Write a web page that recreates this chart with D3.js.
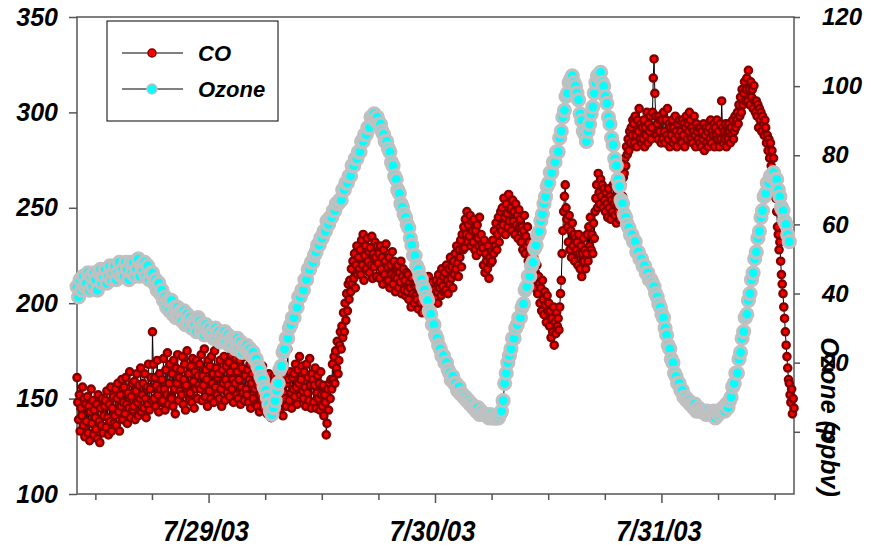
<!DOCTYPE html>
<html>
<head>
<meta charset="utf-8">
<script src="https://cdn.jsdelivr.net/npm/d3@7"></script>
<style>
  body { margin: 0; background: #fff; }
  text { font-family: "Liberation Sans", Arial, sans-serif; font-weight: bold; font-style: italic; fill: #000; }
</style>
</head>
<body>
<div class="chart"></div>
<script>
// CO (ppbv), one value every 5 minutes starting 7/28/03 10:00 (one row per hour)
const coVals = [
  161,148,139,152,133,145,141,156,136,150,130,147,
  138,151,132,146,128,143,155,137,149,131,144,140,
  134,147,129,152,138,127,145,136,150,132,141,146,
  149,135,154,140,131,147,138,156,133,145,151,137,
  141,155,136,150,158,143,133,152,146,160,139,148,
  156,142,161,147,137,153,145,164,140,151,158,144,
  146,159,139,154,163,148,141,157,150,166,143,152,
  158,145,163,150,140,156,147,168,144,155,161,149,
  185,168,150,161,146,157,170,152,143,163,155,148,
  160,149,171,155,144,165,152,174,147,158,168,151,
  150,163,146,170,155,142,166,158,173,149,161,154,
  165,152,172,147,160,168,144,157,175,153,163,149,
  153,167,148,171,159,145,164,155,170,150,162,157,
  168,155,173,149,162,157,176,151,165,160,146,170,
  154,167,150,172,158,163,148,175,156,166,152,161,
  163,150,170,155,146,165,158,172,149,160,167,153,
  157,169,151,164,173,155,160,148,167,158,171,152,
  164,150,160,170,147,156,166,153,172,149,162,155,
  152,165,148,160,168,145,158,163,150,170,155,147,
  160,146,157,165,143,152,161,149,167,145,156,151,
  148,160,142,155,163,146,152,140,158,150,145,162,
  157,144,153,161,147,150,143,158,148,155,141,153,
  150,162,146,158,176,160,149,164,153,145,161,155,
  163,151,168,156,147,165,158,172,152,160,167,154,
  150,164,156,146,168,153,161,149,171,157,145,163,
  160,148,157,166,145,153,162,150,158,144,164,152,
  146,157,141,152,148,131,137,155,144,158,150,160,
  155,168,160,172,158,175,166,180,163,170,178,185,
  176,188,182,195,185,200,191,205,196,210,202,212,
  206,218,210,222,213,226,208,220,230,215,224,218,
  228,215,233,220,236,212,225,230,218,234,222,227,
  216,229,220,235,213,226,219,232,224,214,230,221,
  226,213,230,218,224,210,228,215,222,231,212,219,
  212,224,208,220,215,227,210,222,214,206,219,213,
  220,208,216,211,222,205,214,218,207,212,204,216,
  206,215,202,211,208,198,213,205,210,200,209,204,
  202,210,197,207,212,200,205,195,209,203,198,206,
  210,199,206,214,201,208,196,204,211,200,207,203,
  203,212,206,200,215,208,211,204,218,209,214,206,
  216,207,220,212,205,218,210,224,213,219,208,222,
  215,226,218,230,221,214,228,224,233,219,236,228,
  240,229,244,236,248,232,241,235,246,230,243,238,
  232,244,228,238,225,241,234,230,245,227,236,231,
  229,220,233,216,226,222,218,230,213,224,221,227,
  222,233,226,238,230,242,228,236,245,232,240,248,
  238,250,241,255,245,236,252,247,240,257,243,249,
  250,238,254,243,248,236,252,241,246,234,249,240,
  244,232,240,228,238,246,226,235,230,240,222,232,
  225,214,221,210,218,224,208,216,212,220,205,214,
  210,200,208,196,212,202,194,206,199,190,204,196,
  200,188,196,182,192,185,198,178,190,184,195,188,
  192,186,198,205,212,226,238,248,256,262,250,244,
  240,232,246,228,238,224,242,230,236,222,234,228,
  232,220,236,226,218,230,214,226,234,222,228,218,
  226,236,222,240,230,245,228,236,226,242,234,248,
  255,262,250,268,258,252,265,256,262,250,260,254,
  248,258,252,245,260,250,256,244,254,248,262,252,
  246,255,242,252,248,258,244,254,250,262,256,266,
  268,276,272,282,278,286,280,290,284,292,288,296,
  294,284,298,288,282,296,290,302,286,294,284,292,
  286,296,282,292,288,300,284,294,290,298,286,292,
  300,318,328,310,298,288,294,286,298,290,296,284,
  296,286,300,290,284,296,288,302,286,294,282,292,
  288,296,284,292,286,298,290,282,294,288,296,285,
  290,284,296,288,294,282,292,298,286,294,290,300,
  296,286,292,284,290,298,288,282,294,290,286,292,
  284,292,282,290,286,294,280,288,292,284,290,282,
  292,286,296,284,290,288,294,282,292,288,296,286,
  290,282,294,286,306,292,284,290,286,294,282,290,
  286,294,290,284,292,288,296,286,290,298,292,296,
  300,294,304,298,308,300,312,304,310,316,306,312,
  318,306,322,312,304,316,308,312,302,314,306,300,
  306,298,304,292,302,296,300,290,298,294,288,296,
  292,284,288,280,286,276,284,272,280,268,276,264,
  262,255,248,240,236,228,232,222,215,210,205,198,
  192,185,178,172,166,160,158,152,148,155,142,150,
  145
];
// Ozone (ppbv), one value every 10 minutes starting 7/28/03 10:00 (one row per hour)
const o3Vals = [
  42,39,44,41,45,42,  43,46,41,45,42,46,  44,41,46,47,43,45,  47,43,45,48,44,46,
  48,44,46,49,45,47,  45,49,47,44,49,46,  49,45,47,50,45,48,  47,49,45,48,44,46,
  46,43,44,41,43,40,  41,38,39,36,38,35,  38,34,36,33,36,33,  35,32,35,31,34,31,
  33,30,32,31,29,33,  32,29,31,28,31,29,  30,28,29,27,30,27,  29,26,28,26,29,26,
  28,25,27,25,27,24,  27,24,26,23,25,24,  25,23,24,22,23,21,  21,19,18,16,15,13,
  12,10,8,6,5,7,      9,12,14,18,19,23,   24,27,27,30,31,33,  33,36,36,39,39,41,
  41,44,44,47,47,49,  49,51,52,54,54,56,  56,58,58,61,60,62,  62,64,64,66,66,67,
  67,70,70,72,72,74,  74,77,77,79,79,81,  81,84,84,86,86,88,  88,91,91,92,90,91,
  89,89,87,86,84,84,  82,81,78,77,74,73,  70,69,66,65,63,62,  60,59,56,54,51,51,
  48,47,45,44,42,41,  39,38,35,34,31,31,  28,27,25,24,22,22,  20,20,18,17,15,16,
  14,14,12,13,11,11,  10,10,9,9,8,8,      7,7,6,7,5,6,        5,5,5,5,4,5,
  4,4,4,4,4,5,        6,9,14,17,20,22,    24,27,27,30,31,33,  33,36,37,41,42,45,
  45,48,49,53,54,57,  58,61,63,66,68,71,  72,75,75,78,78,81,  81,85,87,91,93,97,
  98,101,102,103,101,100, 98,96,92,90,87,86, 84,87,89,92,94,98, 101,103,103,104,101,100,
  97,95,91,89,85,83,  79,77,73,71,67,66,  63,62,60,59,57,57,  55,55,52,52,50,50,
  48,48,46,46,44,44,  43,42,40,39,37,36,  34,33,30,28,25,24,  21,20,17,16,14,14,
  12,12,10,10,9,9,    8,8,7,8,6,7,        6,6,6,6,5,6,        5,5,5,6,4,6,
  5,6,6,7,6,8,        7,9,10,13,14,17,    17,21,23,27,29,33,  34,38,40,44,46,50,
  52,56,58,62,64,68,  69,72,72,74,74,75,  73,73,70,68,65,64,  61,60,57,55
];
const dayLabels = ['7/29/03', '7/30/03', '7/31/03'];
const coTicks = [100, 150, 200, 250, 300, 350];
const o3Ticks = [0, 20, 40, 60, 80, 100, 120];
const seriesNames = ['CO', 'Ozone'];

const width = 871, height = 548;
const plotLeft = 77, plotRight = 794, plotTop = 17, plotBottom = 494;

const t0 = new Date(2003, 6, 28, 10, 0);
const t1 = new Date(2003, 6, 31, 14, 0);
const coData = coVals.map((v, i) => ({t: d3.timeMinute.offset(t0, i * 5), v: v}));
const o3Data = o3Vals.map((v, i) => ({t: d3.timeMinute.offset(t0, i * 10), v: v}));

const x = d3.scaleTime().domain([t0, t1]).range([plotLeft, plotRight]);
const yCO = d3.scaleLinear().domain([100, 350]).range([plotBottom, plotTop]);
const yO3 = d3.scaleLinear().domain([-18, 120]).range([plotBottom, plotTop]);

const svg = d3.select('.chart').append('svg')
  .attr('width', width)
  .attr('height', height);

// frame
svg.append('rect')
  .attr('x', plotLeft).attr('y', plotTop)
  .attr('width', plotRight - plotLeft).attr('height', plotBottom - plotTop)
  .attr('fill', 'none')
  .attr('stroke', '#555')
  .attr('stroke-width', 1.5);

// bottom axis: a tick every 6 hours, longer at midnight
const hours = d3.timeHour.every(6).range(t0, d3.timeMinute.offset(t1, 1));
svg.append('g').selectAll('line')
  .data(hours)
  .enter()
  .append('line')
  .attr('x1', d => x(d)).attr('x2', d => x(d))
  .attr('y1', plotBottom)
  .attr('y2', d => d.getHours() === 0 ? plotBottom + 9 : plotBottom + 6)
  .attr('stroke', '#555')
  .attr('stroke-width', 1.5);

const midnights = hours.filter(d => d.getHours() === 0);
svg.append('g').selectAll('text')
  .data(midnights)
  .enter()
  .append('text')
  .attr('x', d => x(d) - 3)
  .attr('y', 541)
  .attr('text-anchor', 'middle')
  .attr('font-size', 29)
  .attr('textLength', 86)
  .attr('lengthAdjust', 'spacingAndGlyphs')
  .text((d, i) => dayLabels[i]);

// left axis (CO)
const gl = svg.append('g')
  .attr('transform', 'translate(' + plotLeft + ',0)')
  .call(d3.axisLeft(yCO).tickValues(coTicks).tickSize(8).tickSizeOuter(0).tickPadding(11));
gl.select('.domain').remove();
gl.selectAll('line').attr('stroke', '#555').attr('stroke-width', 1.5);
gl.selectAll('text').attr('font-size', 25).attr('font-family', null);

// right axis (Ozone)
const gr = svg.append('g')
  .attr('transform', 'translate(' + plotRight + ',0)')
  .call(d3.axisRight(yO3).tickValues(o3Ticks).tickSize(6).tickSizeOuter(0).tickPadding(22));
gr.select('.domain').remove();
gr.selectAll('line').attr('stroke', '#555').attr('stroke-width', 1.5);
gr.selectAll('text').attr('font-size', 24).attr('font-family', null);

svg.append('text')
  .attr('transform', 'translate(830,417) rotate(90)')
  .attr('text-anchor', 'middle')
  .attr('dominant-baseline', 'central')
  .attr('font-size', 25)
  .text('Ozone (ppbv)');

// CO series
svg.append('path')
  .datum(coData)
  .attr('fill', 'none')
  .attr('stroke', '#000')
  .attr('stroke-width', 1)
  .attr('d', d3.line().x(d => x(d.t)).y(d => yCO(d.v)));

svg.append('g').selectAll('circle')
  .data(coData)
  .enter()
  .append('circle')
  .attr('cx', d => x(d.t))
  .attr('cy', d => yCO(d.v))
  .attr('r', 3.6)
  .attr('fill', '#ff0000')
  .attr('stroke', '#800000')
  .attr('stroke-width', 2.4);

// Ozone series
svg.append('path')
  .datum(o3Data)
  .attr('fill', 'none')
  .attr('stroke', '#000')
  .attr('stroke-width', 1)
  .attr('d', d3.line().x(d => x(d.t)).y(d => yO3(d.v)));

svg.append('g').selectAll('circle')
  .data(o3Data)
  .enter()
  .append('circle')
  .attr('cx', d => x(d.t))
  .attr('cy', d => yO3(d.v))
  .attr('r', 6)
  .attr('fill', '#00ffff')
  .attr('stroke', '#c0c0c0')
  .attr('stroke-width', 3.2);

// legend
const legend = svg.append('g');
legend.append('rect')
  .attr('x', 107).attr('y', 21)
  .attr('width', 171).attr('height', 100)
  .attr('fill', '#fff')
  .attr('stroke', '#000')
  .attr('stroke-width', 1);

const items = legend.selectAll('g.item')
  .data(seriesNames)
  .enter()
  .append('g')
  .attr('class', 'item')
  .attr('transform', (d, i) => 'translate(0,' + (i === 0 ? 53 : 89) + ')');

items.append('line')
  .attr('x1', 122).attr('x2', 183)
  .attr('stroke', '#000').attr('stroke-width', 1);
items.append('circle')
  .attr('cx', 152)
  .attr('r', (d, i) => i === 0 ? 4 : 5)
  .attr('fill', (d, i) => i === 0 ? '#ff0000' : '#00ffff')
  .attr('stroke', (d, i) => i === 0 ? '#800000' : '#c0c0c0')
  .attr('stroke-width', 1.5);
items.append('text')
  .attr('x', 198)
  .attr('y', 8)
  .attr('font-size', 22)
  .text(d => d);
</script>
</body>
</html>
